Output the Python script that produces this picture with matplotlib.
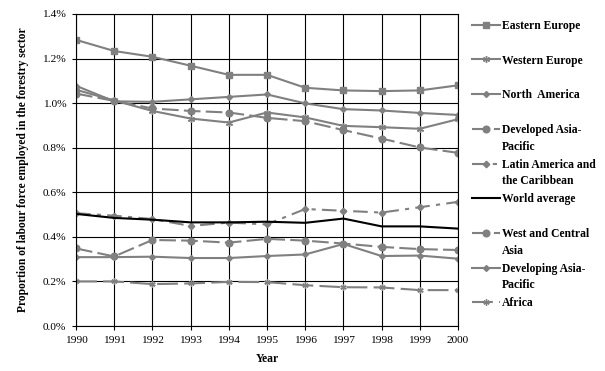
import matplotlib
matplotlib.use("Agg")
import matplotlib.pyplot as plt
from matplotlib.ticker import FuncFormatter, MultipleLocator

years = [1990, 1991, 1992, 1993, 1994, 1995, 1996, 1997, 1998, 1999, 2000]

eastern_europe = [1.284, 1.234, 1.208, 1.168, 1.127, 1.127, 1.069, 1.057, 1.054, 1.057, 1.080]
western_europe = [1.060, 1.012, 0.965, 0.931, 0.913, 0.958, 0.936, 0.898, 0.892, 0.885, 0.928]
north_america = [1.078, 1.008, 1.006, 1.017, 1.028, 1.039, 0.999, 0.973, 0.967, 0.956, 0.947]
developed_asia_pacific = [1.043, 1.010, 0.976, 0.965, 0.958, 0.934, 0.919, 0.879, 0.841, 0.801, 0.777]
latin_america = [0.506, 0.495, 0.480, 0.449, 0.464, 0.456, 0.525, 0.517, 0.509, 0.533, 0.557]
world_average = [0.503, 0.485, 0.477, 0.465, 0.465, 0.468, 0.463, 0.482, 0.447, 0.447, 0.437]
west_central_asia = [0.348, 0.312, 0.386, 0.383, 0.374, 0.391, 0.383, 0.370, 0.355, 0.345, 0.341]
developing_asia_pacific = [0.309, 0.309, 0.311, 0.305, 0.305, 0.314, 0.321, 0.368, 0.314, 0.316, 0.302]
africa = [0.200, 0.200, 0.188, 0.191, 0.198, 0.197, 0.183, 0.174, 0.173, 0.161, 0.161]

labels = ["Eastern Europe", "Western Europe", "North  America",
          "Developed Asia-\nPacific", "Latin America and\nthe Caribbean",
          "World average", "West and Central\nAsia", "Developing Asia-\nPacific", "Africa"]

plt.rcParams['font.family'] = ['Liberation Serif', 'DejaVu Serif']

grey = "#808080"
fig = plt.figure(figsize=(6.05, 3.71), dpi=100)
ax = fig.add_axes([76/605, 1-326/371, (458-76)/605, (326-14)/371])

lw = 1.5
series = [
    (eastern_europe, dict(color=grey, lw=lw, marker='s', ms=4.2)),
    (western_europe, dict(color=grey, lw=lw, marker=(6, 2, 0), ms=5, mew=1)),
    (north_america, dict(color=grey, lw=lw, marker='D', ms=3.0)),
    (developed_asia_pacific, dict(color=grey, lw=lw, marker='o', ms=4.8, dashes=(8, 2.5))),
    (latin_america, dict(color=grey, lw=lw, marker='D', ms=3.3, dashes=(7, 3, 2, 3))),
    (world_average, dict(color='black', lw=lw)),
    (west_central_asia, dict(color=grey, lw=lw, marker='o', ms=4.8, dashes=(8, 2.5))),
    (developing_asia_pacific, dict(color=grey, lw=lw, marker='D', ms=3.0)),
    (africa, dict(color=grey, lw=lw, marker=(6, 2, 0), ms=4.5, mew=1, dashes=(10, 3))),
]

handles = []
for (vals, style), lab in zip(series, labels):
    h, = ax.plot(years, vals, label=lab, **style)
    handles.append(h)

ax.set_xlim(1990, 2000)
ax.set_ylim(0, 1.4)
ax.xaxis.set_major_locator(MultipleLocator(1))
ax.yaxis.set_major_locator(MultipleLocator(0.2))
ax.yaxis.set_major_formatter(FuncFormatter(lambda v, p: f"{v:.1f}%"))
ax.grid(True, color='black', lw=0.8)
ax.set_axisbelow(True)
for s in ax.spines.values():
    s.set_color('black')
    s.set_linewidth(0.8)
ax.tick_params(axis='both', direction='out', length=3, width=0.8, labelsize=8.2, color='black')
ax.tick_params(axis='y', pad=4)
ax.tick_params(axis='x', pad=4)

ax.set_xlabel("Year", fontsize=8.4, fontweight='bold')
ax.xaxis.set_label_coords(0.5, -0.085)
ax.set_ylabel("Proportion of labour force employed in the forestry sector", fontsize=8.3, fontweight='bold')
ax.yaxis.set_label_coords(-0.123, 0.5)

leg = fig.legend(handles=handles, labels=[l if "\n" in l else l + "\n" for l in labels],
                 loc='upper left', bbox_to_anchor=(472/605, 1-20/371),
                 frameon=False, prop={'weight': 'bold', 'size': 8.4},
                 handlelength=2.4, handletextpad=0.15, handleheight=1.1,
                 labelspacing=0.53, borderpad=0, borderaxespad=0, numpoints=1)
for t in leg.get_texts():
    t.set_linespacing(1.5)
try:
    for col in leg._legend_handle_box.get_children():
        for item in col.get_children():
            item.align = 'top'
except Exception:
    pass

fig.savefig("out.png", dpi=100)
